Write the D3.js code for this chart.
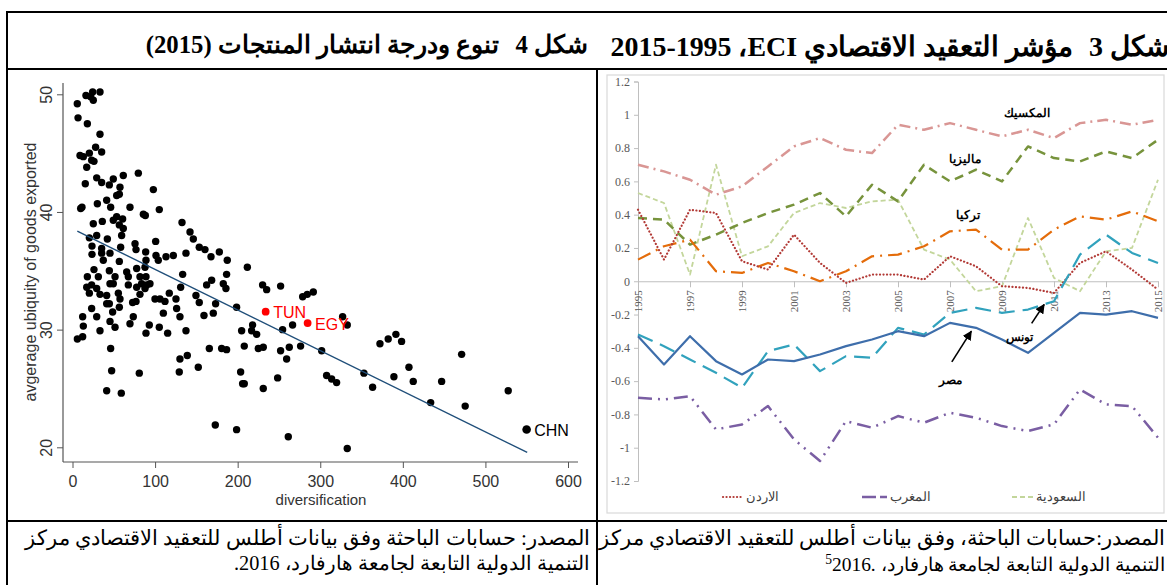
<!DOCTYPE html>
<html>
<head>
<meta charset="utf-8">
<script src="https://cdn.jsdelivr.net/npm/d3@7"></script>
<style>
body { margin: 0; background: #fff; }
#page { position: relative; width: 1167px; height: 585px; overflow: hidden; }
svg { position: absolute; left: 0; top: 0; }
.txt { position: absolute; white-space: nowrap; direction: rtl; line-height: 1;
       font-family: 'Liberation Serif', 'Times New Roman', serif; color: #000; }
</style>
</head>
<body>
<div id="page"><svg width="1167" height="585"></svg></div>
<script>
// ---- figure 3 : ECI 1995-2015 ----
const years = [1995, 1996, 1997, 1998, 1999, 2000, 2001, 2002, 2003, 2004, 2005,
               2006, 2007, 2008, 2009, 2010, 2011, 2012, 2013, 2014, 2015];
const yearTicks = [1995, 1997, 1999, 2001, 2003, 2005, 2007, 2009, 2011, 2013, 2015];
const eciTicks = [-1.2, -1, -0.8, -0.6, -0.4, -0.2, 0, 0.2, 0.4, 0.6, 0.8, 1, 1.2];

const saudi    = [0.53, 0.47, 0.04, 0.70, 0.15, 0.21, 0.41, 0.47, 0.44, 0.48, 0.49, 0.19, 0.13, -0.06, -0.03, 0.38, 0.02, -0.06, 0.18, 0.20, 0.61];
const mexico   = [0.70, 0.66, 0.61, 0.52, 0.57, 0.69, 0.81, 0.86, 0.79, 0.77, 0.94, 0.91, 0.95, 0.91, 0.87, 0.91, 0.86, 0.95, 0.97, 0.94, 0.97];
const malaysia = [0.38, 0.37, 0.22, 0.28, 0.35, 0.41, 0.46, 0.53, 0.39, 0.58, 0.48, 0.70, 0.60, 0.67, 0.60, 0.81, 0.74, 0.72, 0.78, 0.74, 0.85];
const turkey   = [0.13, 0.21, 0.25, 0.06, 0.05, 0.11, 0.06, 0.00, 0.06, 0.15, 0.16, 0.21, 0.30, 0.31, 0.19, 0.19, 0.31, 0.39, 0.37, 0.42, 0.36];
const jordan   = [0.43, 0.13, 0.43, 0.41, 0.12, 0.07, 0.28, 0.11, -0.01, 0.04, 0.04, 0.01, 0.15, 0.09, -0.03, -0.04, -0.07, 0.11, 0.18, 0.07, -0.05];
const tunisia  = [-0.32, -0.39, -0.47, -0.55, -0.64, -0.42, -0.38, -0.54, -0.45, -0.46, -0.28, -0.32, -0.19, -0.16, -0.19, -0.17, -0.12, 0.16, 0.28, 0.17, 0.11];
const egypt    = [-0.33, -0.50, -0.33, -0.48, -0.56, -0.47, -0.48, -0.44, -0.39, -0.35, -0.30, -0.33, -0.25, -0.28, -0.35, -0.43, -0.31, -0.19, -0.20, -0.18, -0.22];
const morocco  = [-0.70, -0.71, -0.69, -0.89, -0.86, -0.75, -0.95, -1.08, -0.84, -0.88, -0.81, -0.85, -0.79, -0.82, -0.87, -0.90, -0.86, -0.65, -0.74, -0.75, -0.94];

const legendNames = ['الاردن', 'المغرب', 'السعودية'];

// ---- figure 4 : diversification vs ubiquity (2015) ----
const scatterTicksX = [0, 100, 200, 300, 400, 500, 600];
const scatterTicksY = [20, 30, 40, 50];
const countries = [  // [diversification, average ubiquity]
  [5.8,49.2],[16.3,49.9],[24.4,50.2],[25.2,49.5],[33.3,50.2],[22,49.8],
  [6.7,48.0],[18,47.5],[33.3,46.6],
  [28,45.5],[35.3,45.1],[9.1,44.8],[20.4,45.0],[23.2,44.4],[17.2,43.8],[26,44.3],[13.1,44.7],
  [79.7,43.3],[61.5,43.1],
  [29.3,42.9],[35.3,42.5],[49.4,42.8],[44.6,42.3],[57.5,42.1],[15.5,42.4],[97.9,41.9],
  [56.7,41.5],[53.5,41.4],
  [41.4,41.0],[30.1,40.7],[46.2,40.4],[69.6,40.4],[105.1,40.2],[9.9,40.3],[11.5,40.4],
  [85.8,39.8],[88.2,39.7],
  [53.5,39.6],[49.4,39.3],[60.7,39.4],[56.7,38.9],[61.5,38.6],[25.2,39.0],[36.1,39.2],
  [132.6,39.1],[142.3,38.3],[146.3,37.7],[153.5,37.0],[160.4,36.8],[167.7,36.2],[177.8,36.6],
  [187.4,35.9],[211.7,35.3],[186.6,34.7],[137.4,36.5],[122.1,36.3],[113.2,36.2],[103.9,35.9],
  [101.1,36.3],[100.7,37.5],
  [20.4,37.8],[29.3,38.0],[42.2,37.7],[59.5,38.0],[75.7,37.3],[76.9,36.8],[88.6,36.6],[89,35.9],
  [58.3,37.0],[56.7,35.8],[23.6,37.1],[23.6,36.4],[35.3,36.9],[35.3,36.5],[37.3,35.9],[45.4,36.5],
  [87.8,35.3],[77.7,35.2],
  [26,35.1],[44.6,35.0],[18,34.5],[31.3,34.5],[65.6,34.9],[67.6,34.5],[81.7,34.5],[89,34.5],
  [133.4,34.7],[168.5,34.2],[51.5,34.5],
  [17.2,33.6],[23.2,33.8],[29.3,33.5],[45.4,33.9],[49.4,33.9],[67.6,33.8],[77.7,33.6],[83.7,33.9],
  [89.8,33.8],[93.8,33.9],[87.8,33.5],[162.4,33.8],[182.6,33.9],[185.8,33.5],[131,33.6],
  [230.2,33.8],[235.1,33.4],[252,33.7],
  [20.4,33.1],[33.3,33.0],[41.4,32.9],[55.5,33.1],[57.5,32.6],[41.4,32.2],[44.6,32.2],[72.8,32.3],
  [76.9,32.4],[81.7,33.0],[99.9,32.6],[105.9,32.6],[112,32.4],[117.2,33.1],[125.3,32.6],[149.5,32.9],
  [153.5,32.3],[173.3,32.2],[198.7,31.9],[278.7,32.8],[284.3,33.0],[291.6,33.2],
  [12.3,31.1],[13.1,30.3],[23.2,31.8],[29.3,31.1],[33.3,29.9],[45.4,30.7],[48.6,31.5],[51.5,30.2],
  [56.7,31.9],[73.6,31.1],[69.6,30.5],[93,30.4],[89,29.7],[105.1,30.2],[110,31.4],[115.2,29.7],
  [126.1,31.8],[130.1,31.1],[137.4,29.9],[159.2,31.2],[170.5,31.4],[204.8,29.9],[216.9,29.9],
  [218.1,30.4],[223,29.6],[254.4,30.0],[266.5,30.4],[327.1,31.1],[332.7,30.4],
  [5.9,29.2],[12.3,29.4],[46.2,28.4],[165.7,28.4],[180.6,28.4],[186.6,28.3],[208,28.6],[225,28.4],
  [231,28.5],[252,28.2],[262.5,28.5],[259.3,27.5],[276.2,28.6],[301.7,28.2],[130.1,27.5],[139,27.8],
  [47.4,26.5],[80.9,26.3],[129.3,26.4],[152.3,26.8],[203.6,26.4],[206,25.4],[208,25.4],[231,25.0],
  [248.4,25.9],[307.7,26.1],[313.8,25.8],[319.8,25.5],[41.4,24.8],[59.1,24.6],
  [172.9,21.9],[198.7,21.5],[261.3,20.9],[332.7,19.9],
  [352.9,26.3],[363.4,25.1],[372.3,28.8],[382.3,29.2],[391.6,29.6],[398.5,29.0],[389.2,26.0],
  [407.4,26.8],[412.6,25.6],[433.7,23.8],[447,25.6],[471.2,27.9],[475.5,23.5],[527.6,24.8]
];
const labelCodes = ['TUN', 'EGY', 'CHN'];
const labelDiversification = [233.9, 284.7, 549.9];
const labelUbiquity = [31.53, 30.56, 21.51];
const fitDiversification = [5.8, 550.6];
const fitUbiquity = [38.37, 19.56];

// ---------------------------------------------------------------
var svg = d3.select('svg');
var page = d3.select('#page');

// table rules
function rule(x1, y1, x2, y2) {
    svg.append('line').attr('x1', x1).attr('y1', y1).attr('x2', x2).attr('y2', y2)
        .attr('stroke', '#000').attr('stroke-width', 2);
}
rule(6, 12, 1167, 12);
rule(6, 69, 1167, 69);
rule(6, 521, 1167, 521);
rule(7, 11, 7, 585);
rule(597, 68, 597, 585);

// ---------- figure 3 ----------
var ex = d3.scaleLinear().domain([1995, 2015]).range([638, 1158]);
var ey = d3.scaleLinear().domain([-1.2, 1.2]).range([481, 81.5]);

svg.append('rect').attr('x', 607).attr('y', 75).attr('width', 557).attr('height', 438)
    .attr('fill', 'none').attr('stroke', '#d9d9d9').attr('stroke-width', 1.2);

var gy = svg.append('g').attr('transform', 'translate(638,0)')
    .call(d3.axisLeft(ey).tickValues(eciTicks).tickSize(4).tickPadding(4)
        .tickFormat(function(d) { return String(+d.toFixed(1)); }));
gy.select('.domain').attr('stroke', '#bfbfbf');
gy.selectAll('.tick line').attr('stroke', '#bfbfbf');
gy.selectAll('text').attr('fill', '#595959')
    .style('font', "12px 'Liberation Serif', serif");

var gx = svg.append('g').attr('transform', 'translate(0,' + ey(0) + ')')
    .call(d3.axisBottom(ex).tickValues(yearTicks).tickSize(6).tickSizeOuter(0)
        .tickFormat(d3.format('d')));
gx.select('.domain').attr('stroke', '#bfbfbf');
gx.selectAll('.tick line').attr('stroke', '#bfbfbf');
gx.selectAll('text')
    .attr('transform', 'rotate(-90)')
    .attr('text-anchor', 'end')
    .attr('x', -9).attr('y', 0).attr('dy', '0.35em')
    .attr('fill', '#595959')
    .style('font', "11px 'Liberation Serif', serif");

var eciLine = d3.line()
    .x(function(d, i) { return ex(years[i]); })
    .y(function(d) { return ey(d); });

var seriesStyle = [
    {values: saudi,    color: '#c3d69b', width: 1.8, dash: '5 3'},
    {values: mexico,   color: '#d99694', width: 2.5, dash: '11 5 2 5'},
    {values: malaysia, color: '#77933c', width: 2.5, dash: '9 6'},
    {values: turkey,   color: '#e46c0a', width: 2.2, dash: '14 6 2 6'},
    {values: jordan,   color: '#b23a36', width: 2.2, dash: '0.1 3.4', cap: 'round'},
    {values: tunisia,  color: '#31a2bd', width: 2.2, dash: '16 8'},
    {values: egypt,    color: '#3e6eab', width: 2.2, dash: null},
    {values: morocco,  color: '#7a5ea3', width: 2.5, dash: '14 6 2 6 2 6'}
];
seriesStyle.forEach(function(s) {
    svg.append('path')
        .attr('d', eciLine(s.values))
        .attr('fill', 'none')
        .attr('stroke', s.color)
        .attr('stroke-width', s.width)
        .attr('stroke-dasharray', s.dash)
        .attr('stroke-linecap', s.cap || 'butt')
        .attr('stroke-linejoin', 'round');
});

// country labels and arrows
var chartLabels = [
    {text: 'المكسيك', year: 2009.95, v: 1.01},
    {text: 'ماليزيا', year: 2007.58, v: 0.733},
    {text: 'تركيا', year: 2007.69, v: 0.398},
    {text: 'تونس', year: 2009.69, v: -0.334},
    {text: 'مصر', year: 2007.0, v: -0.594}
];
svg.selectAll('.clabel').data(chartLabels).enter().append('text')
    .attr('class', 'clabel')
    .attr('x', function(d) { return ex(d.year); })
    .attr('y', function(d) { return ey(d.v); })
    .attr('dy', '0.35em')
    .attr('text-anchor', 'middle')
    .style('font', "bold 11.5px 'Liberation Sans', Arial, sans-serif")
    .text(function(d) { return d.text; });

svg.append('defs').append('marker')
    .attr('id', 'arrow').attr('viewBox', '0 0 10 10')
    .attr('refX', 9).attr('refY', 5)
    .attr('markerWidth', 6).attr('markerHeight', 6)
    .attr('orient', 'auto')
    .append('path').attr('d', 'M0,0L10,5L0,10z').attr('fill', '#000');
var arrows = [
    {y1: 2010.14, v1: -0.253, y2: 2010.62, v2: -0.14},
    {y1: 2007.07, v1: -0.484, y2: 2007.82, v2: -0.30}
];
arrows.forEach(function(a) {
    svg.append('line')
        .attr('x1', ex(a.y1)).attr('y1', ey(a.v1))
        .attr('x2', ex(a.y2)).attr('y2', ey(a.v2))
        .attr('stroke', '#000').attr('stroke-width', 1.6)
        .attr('marker-end', 'url(#arrow)');
});

// legend
var legendPos = [{x0: 723, x1: 743, tx: 746}, {x0: 862, x1: 887, tx: 890}, {x0: 1012, x1: 1034, tx: 1036}];
var legendStyle = [seriesStyle[4], seriesStyle[7], seriesStyle[0]];
legendNames.forEach(function(name, i) {
    var p = legendPos[i], s = legendStyle[i];
    svg.append('line')
        .attr('x1', p.x0).attr('x2', p.x1).attr('y1', 497).attr('y2', 497)
        .attr('stroke', s.color).attr('stroke-width', s.width)
        .attr('stroke-dasharray', i === 1 ? '14 4' : s.dash)
        .attr('stroke-linecap', s.cap || 'butt');
    svg.append('text')
        .attr('x', p.tx).attr('y', 497).attr('dy', '0.35em')
        .attr('fill', '#404040')
        .style('font', "12.5px 'Liberation Serif', serif")
        .text(name);
});

// ---------- figure 4 ----------
var sx = d3.scaleLinear().domain([0, 600]).range([72.5, 568]);
var sy = d3.scaleLinear().domain([20, 50]).range([447.3, 94.3]);
var axisFont = "16px 'Liberation Sans', Arial, sans-serif";

var sgx = svg.append('g').attr('transform', 'translate(0,462)')
    .call(d3.axisBottom(sx).tickValues(scatterTicksX).tickSize(6).tickPadding(8));
sgx.select('.domain').remove();
sgx.selectAll('.tick line').attr('stroke', '#555');
sgx.selectAll('text').attr('fill', '#333').style('font', axisFont);
svg.append('line').attr('x1', 63).attr('x2', 578).attr('y1', 462).attr('y2', 462)
    .attr('stroke', '#555').attr('stroke-width', 1.2);

var sgy = svg.append('g').attr('transform', 'translate(63,0)')
    .call(d3.axisLeft(sy).tickValues(scatterTicksY).tickSize(6));
sgy.select('.domain').remove();
sgy.selectAll('.tick line').attr('stroke', '#555');
sgy.selectAll('text')
    .attr('transform', 'rotate(-90)')
    .attr('text-anchor', 'middle')
    .attr('x', 0).attr('y', -11).attr('dy', 0)
    .attr('fill', '#333').style('font', axisFont);
svg.append('line').attr('x1', 63).attr('x2', 63).attr('y1', 83).attr('y2', 462)
    .attr('stroke', '#555').attr('stroke-width', 1.2);

svg.append('text').attr('x', 321).attr('y', 505).attr('text-anchor', 'middle')
    .attr('fill', '#333').style('font', "15px 'Liberation Sans', Arial, sans-serif")
    .text('diversification');
svg.append('text').attr('transform', 'translate(36,272) rotate(-90)')
    .attr('text-anchor', 'middle')
    .attr('fill', '#333').style('font', axisFont).text('avgerage ubiquity of goods exported');

svg.selectAll('.dot').data(countries).enter().append('circle')
    .attr('class', 'dot')
    .attr('cx', function(d) { return sx(d[0]); })
    .attr('cy', function(d) { return sy(d[1]); })
    .attr('r', 3.7)
    .attr('fill', '#000');

svg.append('line')
    .attr('x1', sx(fitDiversification[0])).attr('y1', sy(fitUbiquity[0]))
    .attr('x2', sx(fitDiversification[1])).attr('y2', sy(fitUbiquity[1]))
    .attr('stroke', '#1f4e79').attr('stroke-width', 1.4);

labelCodes.forEach(function(code, i) {
    var color = code === 'CHN' ? '#000' : '#ff0000';
    var cx = sx(labelDiversification[i]), cy = sy(labelUbiquity[i]);
    svg.append('circle').attr('cx', cx).attr('cy', cy).attr('r', code === 'CHN' ? 4.3 : 3.9)
        .attr('fill', color);
    svg.append('text').attr('x', cx + 7.5).attr('y', cy + 6.5)
        .attr('fill', color).style('font', axisFont).text(code);
});

// ---------- header and footer texts ----------
function placeText(html, right, top, width, bold) {
    var div = page.append('div').attr('class', 'txt')
        .style('right', (1167 - right) + 'px')
        .style('top', top + 'px')
        .style('font-weight', bold ? 'bold' : 'normal')
        .style('font-size', '18px')
        .html(html);
    var w = div.node().getBoundingClientRect().width;
    div.style('font-size', (18 * width / w) + 'px');
    return div;
}
var gap = '<span style="display:inline-block;width:16px"></span>';
placeText('شكل 4' + gap + 'تنوع ودرجة انتشار المنتجات (2015)', 588, 33, 441, true);
// RLM after "ECI" keeps the year range on the right-to-left side, as in the source
placeText('شكل 3' + gap + 'مؤشر التعقيد الاقتصادي ECI\u200F، 2015-1995', 1169, 33, 567, true);
placeText('المصدر: حسابات الباحثة وفق بيانات أطلس للتعقيد الاقتصادي مركز', 590, 528, 568, false);
placeText('التنمية الدولية التابعة لجامعة هارفارد، 2016.', 590, 553, 352, false);
placeText('المصدر:حسابات الباحثة، وفق بيانات أطلس للتعقيد الاقتصادي مركز', 1165, 528, 558, false);
placeText('التنمية الدولية التابعة لجامعة هارفارد، <span dir="ltr"><sup style="font-size:0.7em">5</sup>2016.</span>', 1165, 553, 344, false);
</script>
</body>
</html>
